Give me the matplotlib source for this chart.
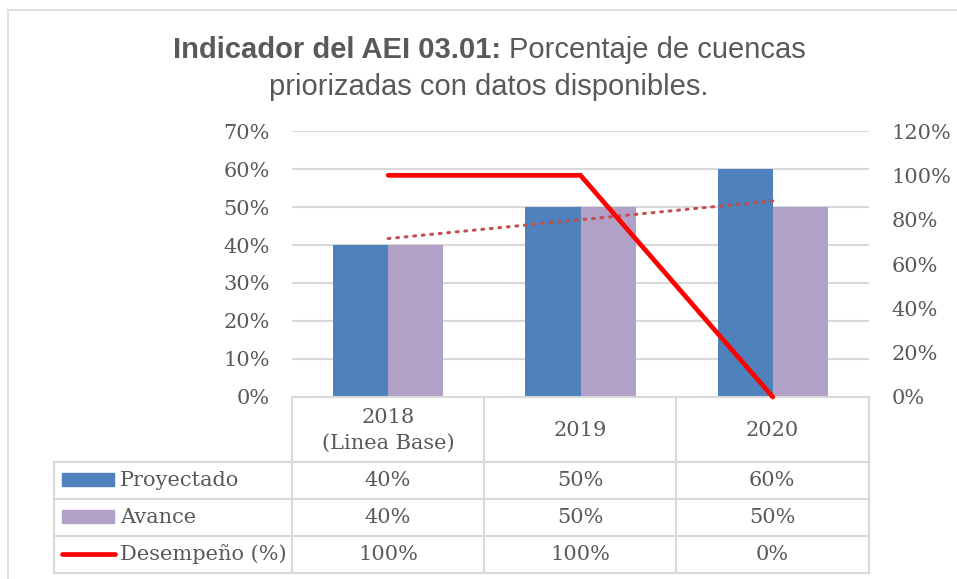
import matplotlib.pyplot as plt
from matplotlib.lines import Line2D
from matplotlib.patches import Rectangle
import numpy as np

# data
years = ["2018\n(Linea Base)", "2019", "2020"]
proyectado = [40, 50, 60]
avance = [40, 50, 50]
desempeno = [100, 100, 0]
trend_ends = [41.7, 51.6]   # dotted trend line of Avance, at 2018 and 2020

BLUE = "#4F81BD"
PURPLE = "#B2A1C7"
RED = "#FF0000"
TREND = "#C0504D"
GRID = "#D9D9D9"
TXT = "#595959"
SERIF = "DejaVu Serif"
FS = 15

W, H = 957, 579
fig = plt.figure(figsize=(W / 100, H / 100), dpi=100)

def fx(px):
    return px / W

def fy(py):
    return 1 - py / H

# outer frame
fig.add_artist(Line2D([fx(8), fx(8)], [fy(10), 0], color=GRID, lw=1.2))
fig.add_artist(Line2D([fx(8), 1], [fy(10), fy(10)], color=GRID, lw=1.2))

# title: bold part + normal part on line 1
r = fig.canvas.get_renderer()
t1 = fig.text(0, fy(58), "Indicador del AEI 03.01: ", fontsize=21, fontweight="bold",
              family="Liberation Sans", color=TXT, va="baseline")
t2 = fig.text(0, fy(58), "Porcentaje de cuencas", fontsize=21,
              family="Liberation Sans", color=TXT, va="baseline")
w1 = t1.get_window_extent(r).width
w2 = t2.get_window_extent(r).width
x0 = 489 - (w1 + w2) / 2
t1.set_x(fx(x0))
t2.set_x(fx(x0 + w1))
fig.text(fx(489), fy(95), "priorizadas con datos disponibles.", fontsize=21,
         family="Liberation Sans", color=TXT, ha="center", va="baseline")

# axes
ax = fig.add_axes([fx(292), fy(397), fx(869) - fx(292), fy(131) - fy(397)])
x = np.arange(len(years))
bw = 0.286
ax.bar(x - bw / 2, proyectado, bw, color=BLUE, zorder=2)
ax.bar(x + bw / 2, avance, bw, color=PURPLE, zorder=2)
ax.plot([x[0], x[-1]], trend_ends, color=TREND, lw=2.2, ls=(0, (0.6, 2.2)),
        dash_capstyle="round", zorder=3)
ax.set_xlim(-0.5, 2.5)
ax.set_ylim(0, 70)
ax.set_yticks(range(0, 71, 10))
ax.set_yticklabels([f"{v}%" for v in range(0, 71, 10)])
ax.set_xticks([])
ax.grid(axis="y", color=GRID, lw=1.5, zorder=0)
ax.set_axisbelow(True)
for s in ["top", "left", "right"]:
    ax.spines[s].set_visible(False)
ax.spines["bottom"].set_color(GRID)
ax.spines["bottom"].set_linewidth(1.5)
ax.tick_params(axis="y", length=0, pad=16, labelsize=FS, labelcolor=TXT)
for lab in ax.get_yticklabels():
    lab.set_family(SERIF)

ax2 = ax.twinx()
ax2.plot(x, desempeno, color=RED, lw=3.4, solid_capstyle="round",
         solid_joinstyle="miter", zorder=4, clip_on=False)
ax2.set_ylim(0, 120)
ax2.set_yticks(range(0, 121, 20))
ax2.set_yticklabels([f"{v}%" for v in range(0, 121, 20)])
for s in ax2.spines.values():
    s.set_visible(False)
ax2.tick_params(axis="y", length=0, pad=16, labelsize=FS, labelcolor=TXT)
for lab in ax2.get_yticklabels():
    lab.set_family(SERIF)

# data table below the plot
col_x = [54, 292, 484, 676, 869]
row_y = [397, 462, 499, 536, 573]
tl = dict(color=GRID, lw=1.5)
for xv in col_x[1:]:
    fig.add_artist(Line2D([fx(xv)] * 2, [fy(397), fy(573)], **tl))
fig.add_artist(Line2D([fx(54)] * 2, [fy(462), fy(573)], **tl))
for yv in row_y[1:]:
    fig.add_artist(Line2D([fx(54), fx(869)], [fy(yv)] * 2, **tl))

tf = dict(fontsize=FS, family=SERIF, color=TXT, ha="center", va="center")
for i, yr in enumerate(years):
    cx = fx(388 + 192 * i)
    fig.text(cx, fy(430), yr, linespacing=1.45, **tf)

rows = [("Proyectado", proyectado, "%"), ("Avance", avance, "%"), ("Desempeño (%)", desempeno, "%")]
for j, (name, vals, suf) in enumerate(rows):
    yc = (row_y[j + 1] + row_y[j + 2]) / 2
    for i, v in enumerate(vals):
        fig.text(fx(388 + 192 * i), fy(yc), f"{v}{suf}", **tf)
    fig.text(fx(120), fy(yc), name, fontsize=FS, family=SERIF, color=TXT,
             ha="left", va="center")

fig.add_artist(Rectangle((fx(62), fy(486)), fx(114) - fx(62), fy(473) - fy(486), color=BLUE))
fig.add_artist(Rectangle((fx(62), fy(523)), fx(114) - fx(62), fy(510) - fy(523), color=PURPLE))
fig.add_artist(Line2D([fx(62), fx(115)], [fy(554)] * 2, color=RED, lw=3.4,
                      solid_capstyle="round"))

fig.savefig("out.png", dpi=100)
